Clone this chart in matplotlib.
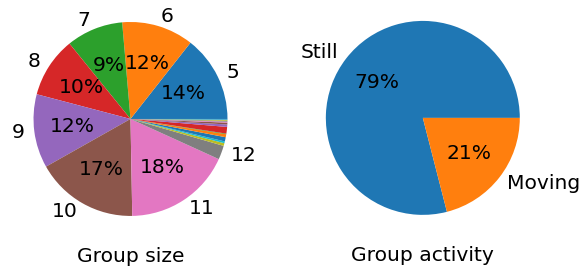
import matplotlib.pyplot as plt

size_labels = ["5", "6", "7", "8", "9", "10", "11", "12",
               "", "", "", "", "", "", "", "", "", "", "", "", ""]
size_values = [14.3, 11.9, 9.4, 10.0, 12.2, 17.0, 17.8, 2.3,
               0.45, 0.3, 0.7, 0.5, 0.1, 1.1, 0.4, 0.3, 0.15, 0.15, 0.12, 0.1, 0.08]

activity_labels = ["Still", "Moving"]
activity_values = [79, 21]


def pct_if_big(pct):
    return "%.0f%%" % pct if pct > 5 else ""


def main() -> None:
    plt.rcParams["font.size"] = 14.6
    fig = plt.figure(figsize=(5.8, 2.69), dpi=100)

    ax1 = fig.add_axes([0.016, 0.107, 0.418, 0.9015])
    ax1.pie(size_values, labels=size_labels, autopct=pct_if_big)
    ax1.set_xlabel("Group size", labelpad=5)

    ax2 = fig.add_axes([0.520, 0.111, 0.418, 0.9015])
    ax2.pie(activity_values, labels=activity_labels, autopct="%.0f%%")
    ax2.set_xlabel("Group activity", labelpad=5)

    fig.savefig("out.png")


if __name__ == "__main__":
    main()
